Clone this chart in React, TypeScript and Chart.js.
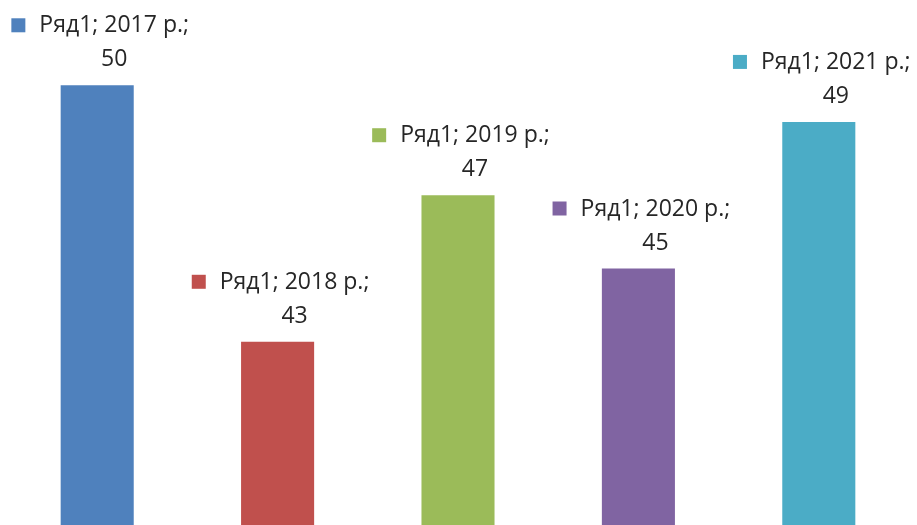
import React, { useEffect, useRef } from "react";
import { Chart, registerables } from "chart.js";

Chart.register(...registerables);

const seriesName = "Ряд1";
const categories = ["2017 р.", "2018 р.", "2019 р.", "2020 р.", "2021 р."];
const values = [50, 43, 47, 45, 49];
const colors = ["#4F81BD", "#C0504D", "#9BBB59", "#8064A2", "#4BACC6"];

const FONT = "23px 'Open Sans'";

const labelPlugin = {
  id: "excelLabels",
  afterDatasetsDraw(chart: any) {
    const ctx = chart.ctx;
    const meta = chart.getDatasetMeta(0);
    ctx.save();
    ctx.font = FONT;
    ctx.textBaseline = "alphabetic";
    meta.data.forEach((bar: any, i: number) => {
      const line1 = `${seriesName}; ${categories[i]};`;
      const line2 = String(values[i]);
      const w1 = ctx.measureText(line1).width;
      const total = 28 + w1;
      const left = bar.x - total / 2 + 3;
      const textCenter = left + 28 + w1 / 2;
      const base2 = bar.y - 19;
      const base1 = bar.y - 53;
      ctx.fillStyle = colors[i];
      ctx.fillRect(left, base1 - 14, 14, 14);
      ctx.fillStyle = "#262626";
      ctx.textAlign = "center";
      ctx.fillText(line1, textCenter, base1);
      ctx.fillText(line2, textCenter, base2);
    });
    ctx.restore();
  },
};

export default function App() {
  const ref = useRef<HTMLCanvasElement>(null);
  useEffect(() => {
    document.body.style.margin = "0";
    document.body.style.overflow = "hidden";
    const chart = new Chart(ref.current!, {
      type: "bar",
      data: {
        labels: categories,
        datasets: [
          {
            label: seriesName,
            data: values,
            backgroundColor: colors,
            borderWidth: 0,
            barPercentage: 0.405,
            categoryPercentage: 1,
          },
        ],
      },
      options: {
        responsive: false,
        animation: false,
        layout: { padding: { left: 7, right: 8, top: 12, bottom: 0 } },
        plugins: { legend: { display: false }, tooltip: { enabled: false } },
        scales: {
          x: { display: false },
          y: { display: false, min: 38, max: 52 },
        },
      },
      plugins: [labelPlugin],
    });
    return () => chart.destroy();
  }, []);
  return <canvas ref={ref} width={917} height={525} style={{ display: "block" }} />;
}
